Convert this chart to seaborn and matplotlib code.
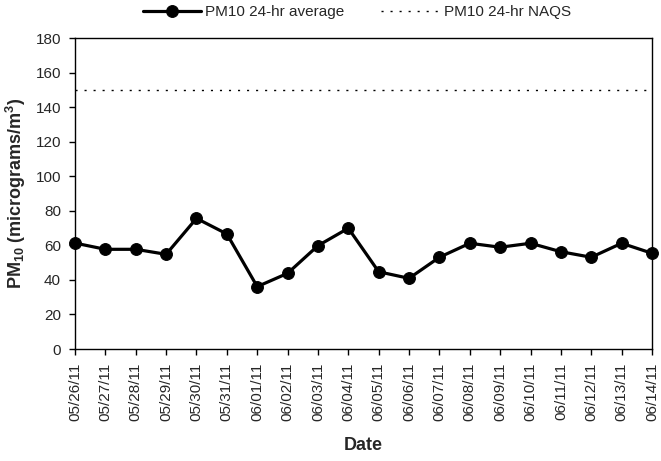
import matplotlib
matplotlib.use("Agg")
import matplotlib.pyplot as plt
import seaborn as sns
import pandas as pd

dates = ["05/26/11", "05/27/11", "05/28/11", "05/29/11", "05/30/11", "05/31/11",
         "06/01/11", "06/02/11", "06/03/11", "06/04/11", "06/05/11", "06/06/11",
         "06/07/11", "06/08/11", "06/09/11", "06/10/11", "06/11/11", "06/12/11",
         "06/13/11", "06/14/11"]
pm10 = [61.3, 57.7, 57.7, 54.8, 75.6, 66.6, 36.1, 43.8, 59.8, 69.9, 44.7, 40.9,
        53.1, 61.2, 58.9, 61.2, 56.3, 53.1, 61.2, 55.4]
naqs = [150] * len(dates)

sns.set_style("white")
plt.rcParams['font.family'] = ['Liberation Sans', 'DejaVu Sans']
plt.rcParams['mathtext.fontset'] = 'custom'
plt.rcParams['mathtext.rm'] = 'Liberation Sans'
plt.rcParams['mathtext.bf'] = 'Liberation Sans:bold'

df = pd.DataFrame({"idx": range(len(dates)), "pm10": pm10, "naqs": naqs})

W, H = 661, 461
fig = plt.figure(figsize=(W / 100, H / 100), dpi=100)
L, R, T, B = 75, 652, 38, 349
ax = fig.add_axes([L / W, 1 - B / H, (R - L) / W, (B - T) / H])

sns.lineplot(data=df, x="idx", y="pm10", ax=ax, color="black", linewidth=2.3,
             marker="o", markersize=8.5, markeredgecolor="black",
             label="PM10 24-hr average", clip_on=False, zorder=3)
sns.lineplot(data=df, x="idx", y="naqs", ax=ax, color="black", linewidth=1,
             linestyle=(0, (1.5, 5)), label="PM10 24-hr NAQS")

ax.set_xlim(0, len(dates) - 1)
ax.set_ylim(0, 180)
ax.set_yticks(range(0, 181, 20))
ax.set_xticks(range(len(dates)))
ax.set_xticklabels(dates, rotation=90, fontsize=11)
ax.tick_params(axis="y", labelsize=11)
ax.tick_params(axis="both", direction="out", length=4, width=1, color="black",
               bottom=True, left=True, pad=6)
for s in ax.spines.values():
    s.set_color("black")
    s.set_linewidth(1)

ax.set_xlabel("Date", fontsize=13, fontweight="bold", va="center")
ax.xaxis.set_label_coords(0.5, -(445 - B) / (B - T))
ax.set_ylabel("PM$_{\\mathbf{10}}$ (micrograms/m$^{\\mathbf{3}}$)", fontsize=13,
              fontweight="bold", va="center")
ax.yaxis.set_label_coords((16 - L) / (R - L), 0.5)

leg = fig.legend(handles=ax.get_legend().legend_handles,
                 labels=[t.get_text() for t in ax.get_legend().get_texts()],
                 loc="center", bbox_to_anchor=(357 / W, 1 - 12 / H), ncol=2,
                 frameon=False, fontsize=11, handlelength=3.8, handletextpad=0.3,
                 columnspacing=2.4, borderpad=0)
ax.get_legend().remove()

fig.savefig("out.png", dpi=100)
